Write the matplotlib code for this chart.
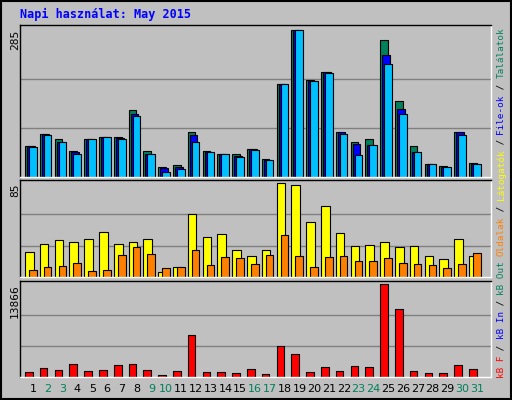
import matplotlib
matplotlib.use("Agg")
import matplotlib.pyplot as plt
import numpy as np

days = list(range(1, 32))
hits = [58.7,81.9,72.9,49,74,78,77,130,49,18.7,22,85.8,49,45,45,53,33.5,180.5,285,188,204,87.7,68,74,265.6,147.6,58.7,23.9,20,87.7,25.8]
files = [58.7,81.9,67,47,74,78,76,122.5,45,16,19.3,80,47,45,41,53,31.6,180.5,285,186,202.5,85.8,62.5,60.6,236.6,132,47,23.9,18.7,85.8,23.9]
pages = [57.4,80,67,45,74,78,73,118.6,45,8.4,14.2,68,47,45,37.4,51,31.6,180.5,285,186,202,83.8,43,60.6,219,122.5,47,23.9,18.7,80,23.9]
visits = [22.4,29.8,33.4,31.6,34.4,40.8,29.8,31.6,34.4,4,8.6,57.4,36.2,39,24.2,18.7,24.2,85,83.2,50,64.7,39.9,27.9,28.8,31.6,27,27.9,18.7,16,34.4,18.7]
sites = [5.8,8.6,9.5,12.3,4.9,5.8,19.6,27,20.6,7.7,8.6,24.2,10.4,17.8,16.9,11.4,19.6,38,18.7,8.6,17.8,18.7,14.1,14.1,16.9,12.3,11.4,10.4,7.7,11.4,21.5]
kbytes = [658,1265,961,1872,810,961,1720,1872,961,202,810,6275,658,658,506,1113,354,4605,3391,658,1417,810,1569,1417,13866,10071,810,506,506,1720,1113]
weekend = [2,3,9,10,16,17,23,24,30,31]
title = "Napi használat: May 2015"

W, H = 512, 400
fig = plt.figure(figsize=(W/100, H/100), dpi=100, facecolor="#C0C0C0")
BG = "#C0C0C0"
GREEN, BLUE, CYAN = "#00805C", "#0000FF", "#00C0FF"
YEL, ORA, RED = "#FFFF00", "#FF8000", "#FF0000"

def ax_at(top, bottom, left=20, right=490.7):
    return fig.add_axes([left/W, 1-bottom/H, (right-left)/W, (bottom-top)/H])

step = 14.8
xd = np.array(days)
base = 5 + (xd-1)*step

def style(ax, ymax, label):
    ax.set_facecolor(BG)
    ax.set_xlim(0, 470.7)
    ax.set_ylim(0, ymax*1.035)
    for g in (ymax/3, 2*ymax/3):
        ax.axhline(g, color="#808080", lw=1, zorder=0)
    ax.set_xticks([]); ax.set_yticks([])
    for s in ax.spines.values():
        s.set_color("black"); s.set_linewidth(1)
    ax.spines["bottom"].set_color("white"); ax.spines["right"].set_color("white")
    ax.text(-0.012, ymax, label, transform=ax.transData, rotation=90,
            ha="right", va="top", fontsize=8, family="DejaVu Sans Mono")

ax1 = ax_at(24.7, 176.7)
style(ax1, 285, "285")
kw = dict(align="edge", edgecolor="black", linewidth=0.8)
ax1.bar(base, hits, 7.7, color=GREEN, **kw)
ax1.bar(base+2, files, 7.7, color=BLUE, **kw)
ax1.bar(base+4, pages, 7.7, color=CYAN, **kw)

ax2 = ax_at(180, 276.7)
style(ax2, 85, "85")
ax2.bar(base, visits, 8.7, color=YEL, **kw)
ax2.bar(base+4, sites, 7.7, color=ORA, **kw)

ax3 = ax_at(280.7, 376.7)
style(ax3, 13866, "13866")
ax3.bar(base, kbytes, 7.7, color=RED, **kw)

for d, x in zip(days, base):
    fig.text((20+x+8)/W, 1-389/H, str(d), ha="center", va="center", fontsize=8,
             color="#00805C" if d in weekend else "black", family="DejaVu Sans")

fig.text(20/W, 1-14/H, title, color="#0000FF", fontsize=8.5, fontweight="bold",
         family="DejaVu Sans Mono", ha="left", va="center")

segs = [("kB F", RED), (" / ", "black"), ("kB In", BLUE), (" / ", "black"),
        ("kB Out", GREEN), (" ", "black"), ("Oldalak", ORA), (" / ", "black"),
        ("Látogatók", YEL), (" / ", "black"), ("File-ok", BLUE), (" / ", "black"),
        ("Találatok", GREEN)]
cw = 5.55
y = 378
for s, c in segs:
    fig.text(501/W, 1-y/H, s, rotation=90, ha="center", va="bottom", color=c,
             fontsize=6.7, family="DejaVu Sans Mono")
    y -= cw*len(s)

from matplotlib.patches import Rectangle
fig.patches.append(Rectangle((0.002, 0.002), 0.996, 0.996, transform=fig.transFigure,
                             fill=False, edgecolor="black", lw=1.5))
fig.savefig("out.png", dpi=100, facecolor=fig.get_facecolor())
